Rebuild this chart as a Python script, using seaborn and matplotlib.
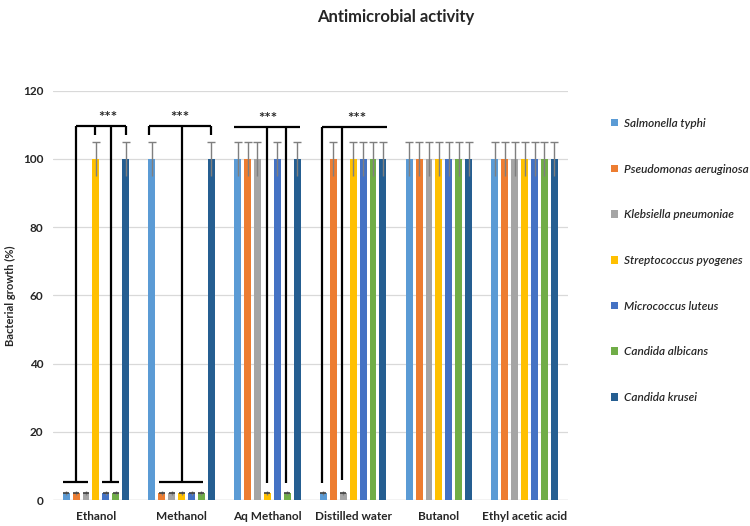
import matplotlib
matplotlib.use("Agg")
import matplotlib.pyplot as plt
import seaborn as sns
import pandas as pd
import numpy as np

solvents = ["Ethanol", "Methanol", "Aq Methanol", "Distilled water", "Butanol", "Ethyl acetic acid"]
organisms = ["Salmonella typhi", "Pseudomonas aeruginosa", "Klebsiella pneumoniae",
             "Streptococcus pyogenes", "Micrococcus luteus", "Candida albicans", "Candida krusei"]

salmonella_typhi = [2, 100, 100, 2, 100, 100]
pseudomonas_aeruginosa = [2, 2, 100, 100, 100, 100]
klebsiella_pneumoniae = [2, 2, 100, 2, 100, 100]
streptococcus_pyogenes = [100, 2, 2, 100, 100, 100]
micrococcus_luteus = [2, 2, 100, 100, 100, 100]
candida_albicans = [2, 2, 2, 100, 100, 100]
candida_krusei = [100, 100, 100, 100, 100, 100]

err_salmonella_typhi = [0.5, 5, 5, 0.5, 5, 5]
err_pseudomonas_aeruginosa = [0.5, 0.5, 5, 5, 5, 5]
err_klebsiella_pneumoniae = [0.5, 0.5, 5, 0.5, 5, 5]
err_streptococcus_pyogenes = [5, 0.5, 0.5, 5, 5, 5]
err_micrococcus_luteus = [0.5, 0.5, 5, 5, 5, 5]
err_candida_albicans = [0.5, 0.5, 0.5, 5, 5, 5]
err_candida_krusei = [5, 5, 5, 5, 5, 5]

colors = ["#5B9BD5", "#ED7D31", "#A5A5A5", "#FFC000", "#4472C4", "#70AD47", "#255E91"]

series = [salmonella_typhi, pseudomonas_aeruginosa, klebsiella_pneumoniae,
          streptococcus_pyogenes, micrococcus_luteus, candida_albicans, candida_krusei]
errors = [err_salmonella_typhi, err_pseudomonas_aeruginosa, err_klebsiella_pneumoniae,
          err_streptococcus_pyogenes, err_micrococcus_luteus, err_candida_albicans, err_candida_krusei]

rows = []
for org, vals in zip(organisms, series):
    for s, v in zip(solvents, vals):
        rows.append({"solvent": s, "organism": org, "growth": v})
df = pd.DataFrame(rows)

sns.set_theme(style="white")
plt.rcParams["font.family"] = ["Lato", "DejaVu Sans"]

fig = plt.figure(figsize=(7.5, 5.26), dpi=100)
ax = fig.add_axes([0.0707, 0.0494, 0.686, 0.778])

GW = 0.81
sns.barplot(data=df, x="solvent", y="growth", hue="organism", order=solvents,
            hue_order=organisms, palette=colors, width=GW, gap=0.3, saturation=1,
            errorbar=None, ax=ax, linewidth=0, zorder=2)

# error bars
for cont, errs in zip(ax.containers, errors):
    xs = [p.get_x() + p.get_width() / 2 for p in cont.patches]
    ys = [p.get_height() for p in cont.patches]
    ax.errorbar(xs, ys, yerr=errs, fmt="none", ecolor="#7F7F7F", elinewidth=1.0,
                capsize=0, zorder=3)
    tops = [y + e for y, e in zip(ys, errs)]
    big = [i for i, e in enumerate(errs) if e >= 1]
    ax.plot([xs[i] for i in big], [tops[i] for i in big], ls="none", marker="_",
            ms=6, mew=1.0, color="#7F7F7F", zorder=3)
    small = [i for i, e in enumerate(errs) if e < 1]
    ax.plot([xs[i] for i in small], [ys[i] for i in small], ls="none", marker="_",
            ms=5, mew=1.2, color="#404040", zorder=3)

slot = GW / 7


def xj(i, j):
    return i + (j - 3) * slot


lk = dict(color="black", lw=1.6, zorder=4, solid_capstyle="butt")


def line(x0, x1, y0, y1):
    ax.plot([x0, x1], [y0, y1], **lk)


STAR = dict(ha="center", va="bottom", fontsize=11, fontweight="bold")

# Ethanol bracket
line(xj(0, 1), xj(0, 6.05), 109.7, 109.7)
line(xj(0, 1), xj(0, 1), 109.7, 5.3)
line(xj(0, 4.5), xj(0, 4.5), 109.7, 5.3)
line(xj(0, 2.9), xj(0, 2.9), 109.7, 107)
line(xj(0, 6.05), xj(0, 6.05), 109.7, 107)
line(xj(0, -0.3), xj(0, 2.2), 5.3, 5.3)
line(xj(0, 3.6), xj(0, 5.3), 5.3, 5.3)
ax.text(xj(0, 4.2), 109.9, "***", **STAR)

# Methanol bracket
line(xj(1, -0.25), xj(1, 6.0), 109.7, 109.7)
line(xj(1, -0.25), xj(1, -0.25), 109.7, 107)
line(xj(1, 6.0), xj(1, 6.0), 109.7, 107)
line(xj(1, 3.0), xj(1, 3.0), 109.7, 5.3)
line(xj(1, 0.75), xj(1, 5.2), 5.3, 5.3)
ax.text(xj(1, 2.8), 109.9, "***", **STAR)

# Aq Methanol bracket
line(xj(2, -0.35), xj(2, 6.3), 109.4, 109.4)
line(xj(2, 3.0), xj(2, 3.0), 109.4, 5.0)
line(xj(2, 4.9), xj(2, 4.9), 109.4, 5.0)
ax.text(xj(2, 3.0), 109.6, "***", **STAR)

# Distilled water bracket
line(xj(3, -0.1), xj(3, 6.45), 109.4, 109.4)
line(xj(3, -0.1), xj(3, -0.1), 109.4, 5.0)
line(xj(3, 1.85), xj(3, 1.85), 109.4, 5.8)
ax.text(xj(3, 3.4), 109.6, "***", **STAR)

ax.set_ylim(0, 120)
ax.set_xlim(-0.5, 5.5)
ax.set_yticks(range(0, 121, 20))
ax.yaxis.grid(True, color="#D9D9D9", lw=0.9, zorder=0)
ax.set_axisbelow(True)
for s in ax.spines.values():
    s.set_visible(False)
ax.axhline(0, color="#D9D9D9", lw=1.0, zorder=1)
ax.tick_params(axis="both", length=0, labelsize=8.5)
for t in ax.get_xticklabels() + ax.get_yticklabels():
    t.set_fontweight("bold")
ax.tick_params(axis="y", pad=7)
ax.tick_params(axis="x", pad=8)
ax.set_xlabel("")
ax.set_ylabel("Bacterial growth (%)", fontsize=8, fontweight="bold", labelpad=5)

handles, labels = ax.get_legend_handles_labels()
ax.legend(handles, labels, loc="upper left", bbox_to_anchor=(0.808, 0.785),
          bbox_transform=fig.transFigure, frameon=False,
          prop={"style": "italic", "size": 8.5, "weight": "semibold"},
          handlelength=0.6, handleheight=0.6, handletextpad=0.5, labelspacing=2.94,
          borderaxespad=0)

fig.text(0.527, 0.968, "Antimicrobial activity", ha="center", va="center",
         fontsize=12, fontweight="bold")

fig.savefig("out.png", dpi=100)
